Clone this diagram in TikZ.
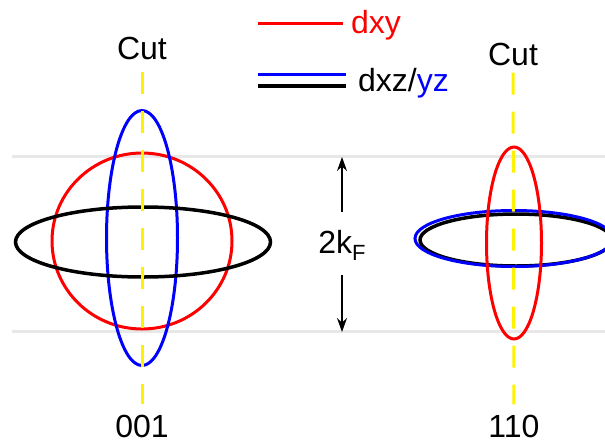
\documentclass[tikz,border=0pt]{standalone}
\usepackage{fontspec}
\setmainfont{Liberation Sans}
\usetikzlibrary{arrows.meta, positioning}

\begin{document}
\begin{tikzpicture}[
    x=1pt, y=-1pt,
    lbl/.style={font=\fontsize{32}{38}\selectfont, inner sep=0pt, anchor=base},
    band/.style={draw=black!9, line width=3pt},
    cutline/.style={draw=yellow, line width=3pt, dash pattern=on 22pt off 17pt},
    dxyline/.style={draw=red, line width=3pt},
    dyzline/.style={draw=blue, line width=3pt},
    dxzline/.style={draw=black, line width=3.5pt},
    flow/.style={-{Stealth[length=14pt,width=10pt]}, line width=1.5pt},
]
\useasboundingbox (0,0) rectangle (605,445);

% k_F window
\draw[band] (12,156) -- (610,156);
\draw[band] (12,331) -- (610,331);

% labels
\node[lbl] (cutA) at (142,59) {Cut};
\node[lbl] (cutB) at (513,65) {Cut};
\node[lbl] (dirA) at (142,437) {001};
\node[lbl] (dirB) at (514,437) {110};
\node[lbl] (kF) at (342,253) {2k\raisebox{-7pt}{\fontsize{22}{22}\selectfont F}};

% legend
\node[lbl, anchor=base west, text=red] (legXY) at (351,33) {dxy};
\node[lbl, anchor=base west] (legXZ) at (358,91) {dxz/\textcolor{blue}{yz}};
\coordinate (legA) at (258,23);
\coordinate (legB) at (258,74);
\coordinate (legC) at (258,86);
\draw[dxyline, shorten >=8pt] (legA) -- (legA -| legXY.west);
\draw[dyzline, shorten >=12pt] (legB) -- (legB -| legXZ.west);
\draw[dxzline, shorten >=12pt] (legC) -- (legC -| legXZ.west);

% 001 cut
\draw[dxyline] (142,241) ellipse [x radius=90pt, y radius=88pt];
\draw[dyzline] (142,238) ellipse [x radius=35.5pt, y radius=127.5pt];
\draw[dxzline] (143,242) ellipse [x radius=127.5pt, y radius=35pt];
\draw[cutline, shorten <=12pt, shorten >=10pt] (cutA) -- (dirA);

% 110 cut
\draw[dxzline] (516,240) ellipse [x radius=96pt, y radius=26pt];
\draw[dyzline] (514,238.5) ellipse [x radius=99pt, y radius=28pt];
\draw[dxyline] (514,243) ellipse [x radius=27.5pt, y radius=96pt];
\draw[cutline, shorten <=7pt, shorten >=10pt] (cutB) -- (dirB);

% 2k_F arrows
\coordinate (kTop) at (342,157);
\coordinate (kBot) at (342,332);
\draw[flow, shorten <=18pt] (kF.north) -- (kTop);
\draw[flow, shorten <=15pt] (kF.south) -- (kBot);
\end{tikzpicture}
\end{document}
